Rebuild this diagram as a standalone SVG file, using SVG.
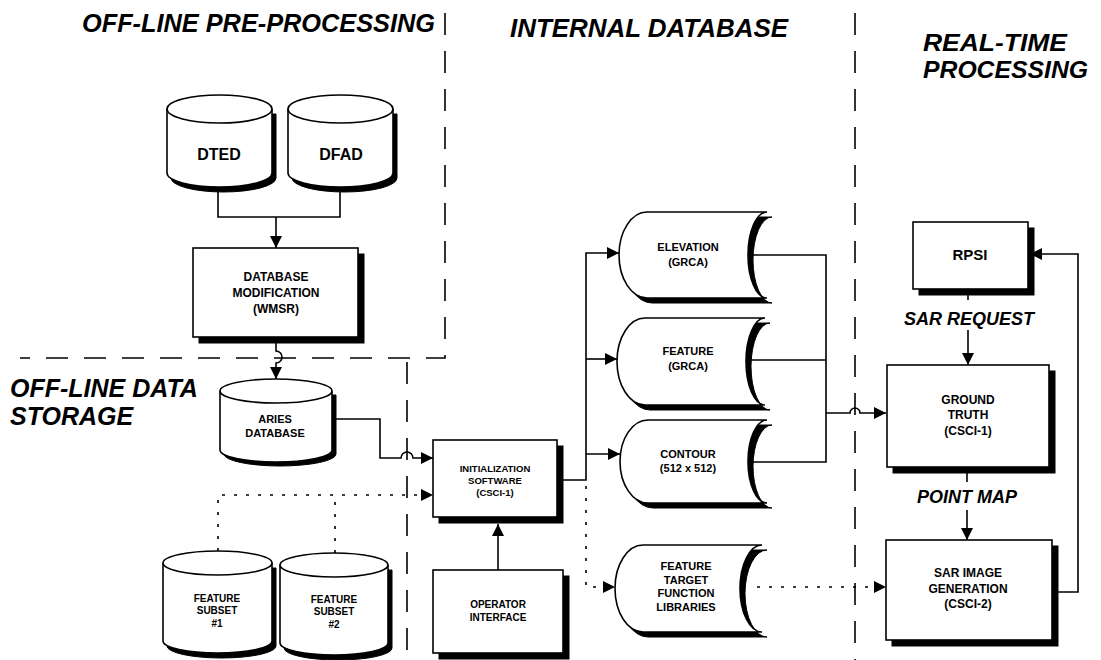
<svg xmlns="http://www.w3.org/2000/svg" width="1101" height="660" viewBox="0 0 1101 660">
<defs>
<style>
.title{font-family:"Liberation Sans",Arial,Helvetica,sans-serif;font-weight:bold;font-style:italic;font-size:25px;fill:#000}
.lbl{font-family:"Liberation Sans",Arial,Helvetica,sans-serif;font-weight:bold;fill:#000;text-anchor:middle}
.sep{fill:none;stroke:#000;stroke-width:1.6;stroke-dasharray:22 16}
.ln{fill:none;stroke:#000;stroke-width:1.6}
.dot{fill:none;stroke:#000;stroke-width:1.6;stroke-dasharray:3 9}
.body{fill:#fff;stroke:#000;stroke-width:1.6}
.shd{fill:#000;stroke:#000;stroke-width:1}
</style>
<marker id="ah" markerWidth="12" markerHeight="12" refX="12" refY="6" orient="auto" markerUnits="userSpaceOnUse"><path d="M0,0 L12,6 L0,12 z" fill="#000"/></marker>
</defs>
<rect width="1101" height="660" fill="#fff"/>

<g id="separators">
<path class="sep" d="M445,13 V358 H20"/>
<path class="sep" d="M407,362 V660"/>
<path class="sep" d="M855,13 V660"/>
</g>

<g id="titles">
<text class="title" x="82" y="32" textLength="353" lengthAdjust="spacingAndGlyphs">OFF-LINE PRE-PROCESSING</text>
<text class="title" x="510" y="37" textLength="278" lengthAdjust="spacingAndGlyphs">INTERNAL DATABASE</text>
<text class="title" x="923" y="51" style="font-size:24px" textLength="144" lengthAdjust="spacingAndGlyphs">REAL-TIME</text>
<text class="title" x="923" y="78" style="font-size:24px" textLength="165" lengthAdjust="spacingAndGlyphs">PROCESSING</text>
<text class="title" x="10" y="397">OFF-LINE DATA</text>
<text class="title" x="10" y="425">STORAGE</text>
</g>

<g id="connectors">
<path class="ln" d="M218,192 V217 H340 V192"/>
<path class="ln" d="M276,217 V248" marker-end="url(#ah)"/>
<path class="ln" d="M276,343 V351 A6,6 0 0 1 276,363 V379" marker-end="url(#ah)"/>
<path class="ln" d="M336,419 H380 V458 H401 A6,6 0 0 1 413,458 H433" marker-end="url(#ah)"/>
<path class="dot" d="M218,551 V495 H433" marker-end="url(#ah)"/>
<path class="dot" d="M335,553 V495"/>
<path class="ln" d="M498,570 V524" marker-end="url(#ah)"/>
<path class="ln" d="M563,480 H586 V253 H619" marker-end="url(#ah)"/>
<path class="ln" d="M586,359 H617" marker-end="url(#ah)"/>
<path class="ln" d="M586,454 H620" marker-end="url(#ah)"/>
<path class="dot" d="M586,486 V587 H615" marker-end="url(#ah)"/>
<path class="ln" d="M750,255 H826 V462 H750"/>
<path class="ln" d="M747,360 H826"/>
<path class="ln" d="M826,413 H850 A5,5 0 0 1 860,413 H886" marker-end="url(#ah)"/>
<path class="dot" d="M757,587 H886" marker-end="url(#ah)"/>
<path class="ln" d="M968,295 V300"/>
<path class="ln" d="M968,330 V365" marker-end="url(#ah)"/>
<path class="ln" d="M967,473 V482"/>
<path class="ln" d="M967,510 V540" marker-end="url(#ah)"/>
<path class="ln" d="M1058,592 H1078 V254 H1030" marker-end="url(#ah)"/>
</g>

<g id="dted">
<path class="shd" d="M171,114 V178 A52.5,14 0 0 0 276,178 V114 Z"/>
<path class="body" d="M167,109 V173 A52.5,14 0 0 0 272,173 V109"/>
<ellipse class="body" cx="219.5" cy="109" rx="52.5" ry="14"/>
<text class="lbl" x="219" y="160" font-size="16">DTED</text>
</g>

<g id="dfad">
<path class="shd" d="M292,114 V178 A52.5,14 0 0 0 397,178 V114 Z"/>
<path class="body" d="M288,109 V173 A52.5,14 0 0 0 393,173 V109"/>
<ellipse class="body" cx="340.5" cy="109" rx="52.5" ry="14"/>
<text class="lbl" x="341" y="160" font-size="16">DFAD</text>
</g>

<g id="wmsr">
<rect class="shd" x="199" y="254" width="165" height="89"/>
<rect class="body" x="193" y="248" width="165" height="89"/>
<text class="lbl" x="276" y="281" font-size="12">DATABASE</text>
<text class="lbl" x="276" y="297" font-size="12">MODIFICATION</text>
<text class="lbl" x="276" y="313" font-size="12">(WMSR)</text>
</g>

<g id="aries">
<path class="shd" d="M224,395 V454 A56,12 0 0 0 336,454 V395 Z"/>
<path class="body" d="M220,391 V450 A56,12 0 0 0 332,450 V391"/>
<ellipse class="body" cx="276" cy="391" rx="56" ry="12"/>
<text class="lbl" x="275" y="423" font-size="11">ARIES</text>
<text class="lbl" x="275" y="437" font-size="11">DATABASE</text>
</g>

<g id="subset1">
<path class="shd" d="M167,568 V646 A54.5,12 0 0 0 276,646 V568 Z"/>
<path class="body" d="M163,563 V641 A54.5,12 0 0 0 272,641 V563"/>
<ellipse class="body" cx="217.5" cy="563" rx="54.5" ry="12"/>
<text class="lbl" x="217" y="602" font-size="10">FEATURE</text>
<text class="lbl" x="217" y="614" font-size="10">SUBSET</text>
<text class="lbl" x="217" y="627" font-size="10">#1</text>
</g>

<g id="subset2">
<path class="shd" d="M284,570 V648 A54,12 0 0 0 392,648 V570 Z"/>
<path class="body" d="M280,565 V643 A54,12 0 0 0 388,643 V565"/>
<ellipse class="body" cx="334" cy="565" rx="54" ry="12"/>
<text class="lbl" x="334" y="603" font-size="10">FEATURE</text>
<text class="lbl" x="334" y="615" font-size="10">SUBSET</text>
<text class="lbl" x="334" y="628" font-size="10">#2</text>
</g>

<g id="init">
<rect class="shd" x="439" y="446" width="124" height="77"/>
<rect class="body" x="433" y="440" width="124" height="77"/>
<text class="lbl" x="495" y="472" font-size="9.5">INITIALIZATION</text>
<text class="lbl" x="495" y="484" font-size="9.5">SOFTWARE</text>
<text class="lbl" x="495" y="496" font-size="9.5">(CSCI-1)</text>
</g>

<g id="operator">
<rect class="shd" x="439" y="576" width="130" height="83"/>
<rect class="body" x="433" y="570" width="130" height="83"/>
<text class="lbl" x="498" y="608" font-size="10">OPERATOR</text>
<text class="lbl" x="498" y="621" font-size="10">INTERFACE</text>
</g>

<g id="elevation">
<path class="shd" d="M652,217 L772,217 A19,43 0 0 0 772,303 L652,303 A28,43 0 0 1 652,217 Z"/>
<path class="body" d="M647,212 L767,212 A19,43 0 0 0 767,298 L647,298 A28,43 0 0 1 647,212 Z"/>
<text class="lbl" x="688" y="251" font-size="11">ELEVATION</text>
<text class="lbl" x="688" y="266" font-size="11">(GRCA)</text>
</g>

<g id="feature">
<path class="shd" d="M650,323 L770,323 A19,43.5 0 0 0 770,410 L650,410 A28,43.5 0 0 1 650,323 Z"/>
<path class="body" d="M645,318 L765,318 A19,43.5 0 0 0 765,405 L645,405 A28,43.5 0 0 1 645,318 Z"/>
<text class="lbl" x="688" y="355" font-size="11">FEATURE</text>
<text class="lbl" x="688" y="370" font-size="11">(GRCA)</text>
</g>

<g id="contour">
<path class="shd" d="M653,425 L772,425 A19,41.5 0 0 0 772,508 L653,508 A28,41.5 0 0 1 653,425 Z"/>
<path class="body" d="M648,420 L767,420 A19,41.5 0 0 0 767,503 L648,503 A28,41.5 0 0 1 648,420 Z"/>
<text class="lbl" x="688" y="458" font-size="11">CONTOUR</text>
<text class="lbl" x="688" y="472" font-size="11">(512 x 512)</text>
</g>

<g id="ftfl">
<path class="shd" d="M648,550 L767,550 A22,43.5 0 0 0 767,637 L648,637 A28,43.5 0 0 1 648,550 Z"/>
<path class="body" d="M643,545 L762,545 A22,43.5 0 0 0 762,632 L643,632 A28,43.5 0 0 1 643,545 Z"/>
<text class="lbl" x="686" y="570" font-size="11">FEATURE</text>
<text class="lbl" x="686" y="584" font-size="11">TARGET</text>
<text class="lbl" x="686" y="597" font-size="11">FUNCTION</text>
<text class="lbl" x="686" y="611" font-size="11">LIBRARIES</text>
</g>

<g id="rpsi">
<rect class="shd" x="919" y="228" width="115" height="67"/>
<rect class="body" x="913" y="222" width="115" height="67"/>
<text class="lbl" x="970" y="260" font-size="15">RPSI</text>
</g>

<g id="sar-request">
<text class="title" x="969" y="325" text-anchor="middle" style="font-size:18px">SAR REQUEST</text>
</g>

<g id="ground-truth">
<rect class="shd" x="893" y="371" width="162" height="102"/>
<rect class="body" x="887" y="365" width="162" height="102"/>
<text class="lbl" x="968" y="404" font-size="12">GROUND</text>
<text class="lbl" x="968" y="419" font-size="12">TRUTH</text>
<text class="lbl" x="968" y="435" font-size="12">(CSCI-1)</text>
</g>

<g id="point-map">
<text class="title" x="967" y="503" text-anchor="middle" style="font-size:18px">POINT MAP</text>
</g>

<g id="sar-image">
<rect class="shd" x="892" y="546" width="166" height="100"/>
<rect class="body" x="886" y="540" width="166" height="100"/>
<text class="lbl" x="968" y="577" font-size="12">SAR IMAGE</text>
<text class="lbl" x="968" y="593" font-size="12">GENERATION</text>
<text class="lbl" x="968" y="608" font-size="12">(CSCI-2)</text>
</g>
</svg>
